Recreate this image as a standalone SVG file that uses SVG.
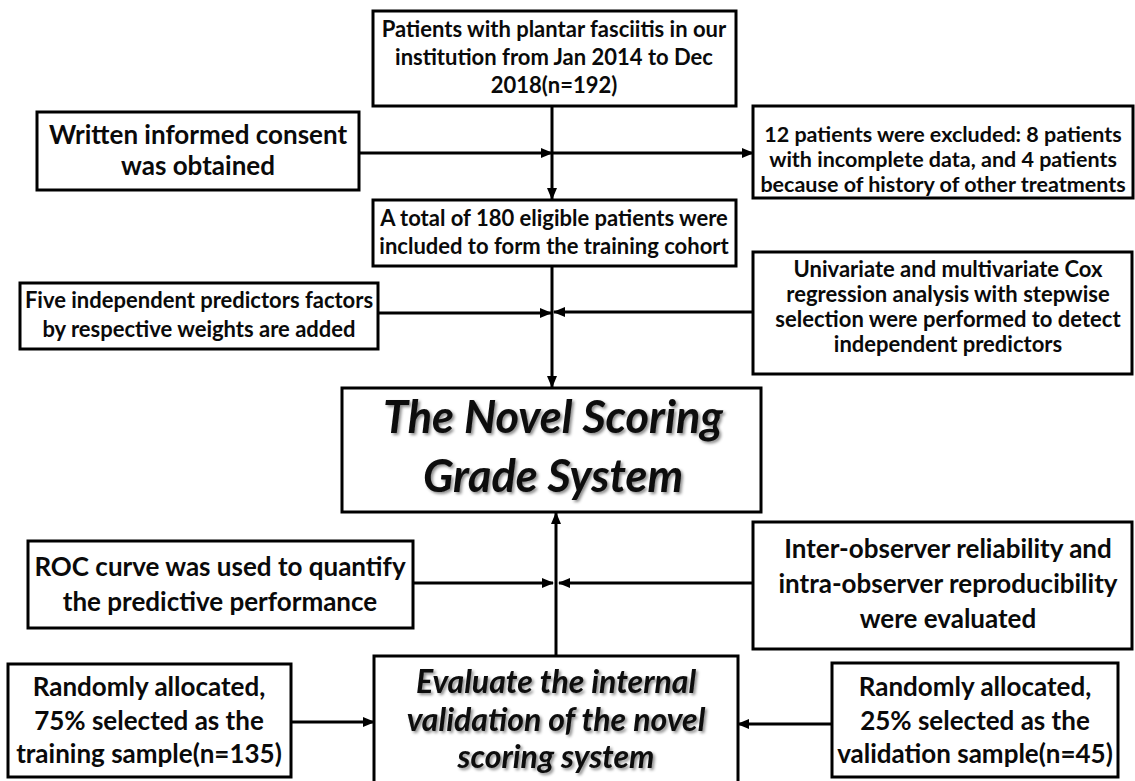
<svg xmlns="http://www.w3.org/2000/svg" width="1135" height="781" viewBox="0 0 1135 781">
<defs>
<marker id="ah" markerUnits="userSpaceOnUse" markerWidth="12" markerHeight="10" refX="11" refY="5" orient="auto">
<path d="M0,0 L12,5 L0,10 Z" fill="#000"/>
</marker>
<filter id="sh" x="-5%" y="-20%" width="110%" height="140%">
<feDropShadow dx="2" dy="2" stdDeviation="1.5" flood-color="#000" flood-opacity="0.45"/>
</filter>
<style>
.box{fill:#fff;stroke:#000;stroke-width:3}
.t{font-family:Lato,"Open Sans","Liberation Sans",sans-serif;font-weight:bold;fill:#0a0a0a;text-anchor:middle}
.s21{font-size:21.5px}
.s22{font-size:22px}
.s26{font-size:26px}
.bi{font-style:italic;filter:url(#sh)}
.c{stroke:#000;stroke-width:3;fill:none}
.a{marker-end:url(#ah)}
</style>
</defs>
<rect width="1135" height="781" fill="#fff"/>
<g id="connectors">
<line class="c a" x1="552" y1="106" x2="552" y2="199"/>
<line class="c a" x1="359" y1="153" x2="552" y2="153"/>
<line class="c a" x1="552" y1="153" x2="753" y2="153"/>
<line class="c a" x1="552" y1="266" x2="552" y2="387"/>
<line class="c a" x1="378" y1="313" x2="551" y2="313"/>
<line class="c a" x1="753" y1="312" x2="554" y2="312"/>
<line class="c a" x1="556" y1="656" x2="556" y2="513"/>
<line class="c a" x1="413" y1="583" x2="553" y2="583"/>
<line class="c a" x1="753" y1="583" x2="559" y2="583"/>
<line class="c a" x1="291" y1="722" x2="374" y2="722"/>
<line class="c a" x1="832" y1="724" x2="738" y2="724"/>
</g>
<g id="n1">
<rect class="box" x="373" y="11" width="363" height="95"/>
<text class="t s22" x="554" y="37">Patients with plantar fasciitis  in our</text>
<text class="t s22" x="554" y="65">institution from Jan 2014 to Dec</text>
<text class="t s22" x="554" y="93">2018(n=192)</text>
</g>
<g id="n2">
<rect class="box" x="37" y="112" width="322" height="78"/>
<text class="t s26" x="198" y="144">Written informed consent</text>
<text class="t s26" x="198" y="175">was obtained</text>
</g>
<g id="n3">
<rect class="box" x="753" y="106" width="380" height="92"/>
<text class="t s21" x="943" y="142">12 patients were excluded: 8 patients</text>
<text class="t s21" x="943" y="167">with incomplete data, and 4 patients</text>
<text class="t s21" x="943" y="192">because of history of other treatments</text>
</g>
<g id="n4">
<rect class="box" x="373" y="200" width="363" height="66"/>
<text class="t s22" x="554" y="226">A total of 180 eligible patients were</text>
<text class="t s22" x="554" y="254">included to form the training cohort</text>
</g>
<g id="n5">
<rect class="box" x="20" y="283" width="358" height="66"/>
<text class="t s22" x="199" y="308">Five independent predictors factors</text>
<text class="t s22" x="199" y="337">by respective weights are added</text>
</g>
<g id="n6">
<rect class="box" x="753" y="252" width="379" height="122"/>
<text class="t s22" x="948" y="277">Univariate and  multivariate Cox</text>
<text class="t s22" x="948" y="302">regression analysis with stepwise</text>
<text class="t s22" x="948" y="327">selection were performed to detect</text>
<text class="t s22" x="948" y="352">independent predictors</text>
</g>
<g id="n7">
<rect class="box" x="342" y="388" width="419" height="124"/>
<text class="t bi" x="553" y="433" style="font-size:45px">The Novel Scoring</text>
<text class="t bi" x="553" y="492" style="font-size:45px">Grade System</text>
</g>
<g id="n8">
<rect class="box" x="28" y="541" width="385" height="87"/>
<text class="t s26" x="220" y="576">ROC curve was used to quantify</text>
<text class="t s26" x="220" y="611">the predictive performance</text>
</g>
<g id="n9">
<rect class="box" x="753" y="522" width="379" height="127"/>
<text class="t s26" x="948" y="558">Inter-observer reliability and</text>
<text class="t s26" x="948" y="593">intra-observer reproducibility</text>
<text class="t s26" x="948" y="628">were evaluated</text>
</g>
<g id="n10">
<rect class="box" x="8" y="664" width="283" height="113"/>
<text class="t s26" x="149" y="696">Randomly allocated,</text>
<text class="t s26" x="149" y="730">75% selected as the</text>
<text class="t s26" x="149" y="763">training sample(n=135)</text>
</g>
<g id="n11">
<rect class="box" x="374" y="656" width="364" height="135"/>
<text class="t bi" x="556" y="693" style="font-size:32px">Evaluate the internal</text>
<text class="t bi" x="556" y="731" style="font-size:32px">validation of the novel</text>
<text class="t bi" x="556" y="768" style="font-size:32px">scoring system</text>
</g>
<g id="n12">
<rect class="box" x="832" y="663" width="286" height="114"/>
<text class="t s26" x="975" y="696">Randomly allocated,</text>
<text class="t s26" x="975" y="730">25% selected as the</text>
<text class="t s26" x="975" y="763">validation sample(n=45)</text>
</g>
</svg>
